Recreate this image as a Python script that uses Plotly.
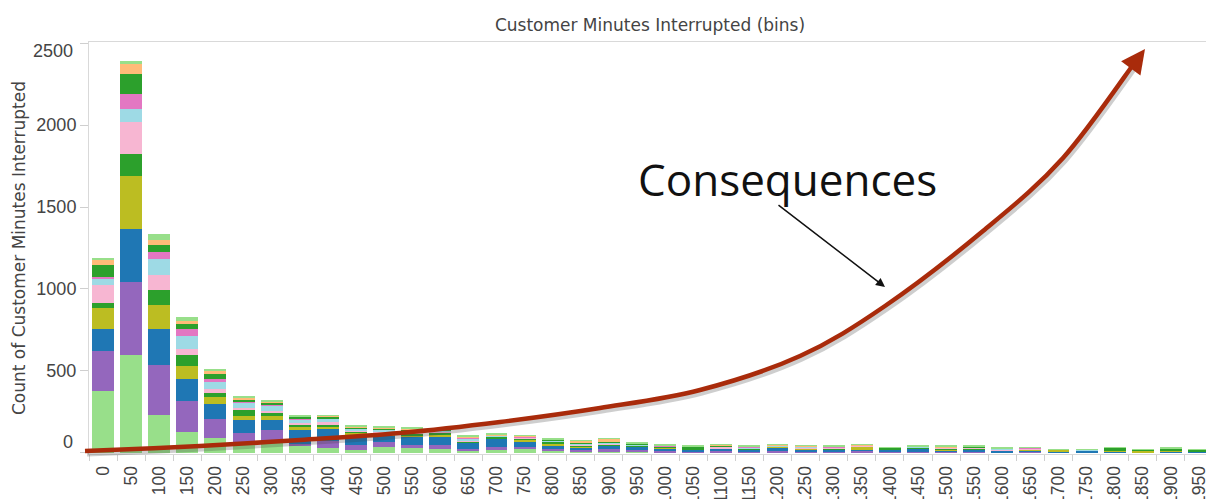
import plotly.graph_objects as go

# ---------------- data ----------------
bins = [str(v) for v in range(0, 2000, 50)]

s_lightgreen = [378, 596, 229, 127, 87, 56, 56, 40, 30, 15, 35, 25, 20, 12, 15, 25, 10, 8, 8, 5,
                3, 2, 2, 2, 2, 2, 1, 1, 1, 1, 1, 1, 1, 1, 2, 1, 1, 1, 1, 1]
s_purple = [244, 444, 306, 189, 118, 61, 81, 10, 40, 30, 30, 20, 25, 8, 20, 10, 10, 8, 12, 8,
            8, 5, 5, 5, 5, 5, 8, 10, 2, 3, 3, 6, 2, 8, 1, 1, 1, 1, 1, 1]
s_blue = [133, 326, 220, 133, 92, 81, 61, 85, 75, 65, 40, 50, 55, 40, 50, 35, 25, 15, 20, 22,
          15, 10, 15, 12, 25, 10, 10, 5, 15, 20, 8, 12, 10, 6, 1, 10, 4, 1, 2, 2]
s_olive = [126, 326, 147, 81, 41, 26, 26, 20, 10, 10, 10, 8, 8, 3, 3, 8, 5, 8, 4, 3,
           5, 2, 3, 1, 2, 5, 2, 18, 1, 2, 6, 2, 1, 1, 12, 1, 2, 12, 10, 3]
s_green = [30, 133, 92, 65, 28, 35, 15, 15, 15, 10, 10, 15, 15, 5, 8, 8, 15, 3, 3, 5,
           3, 10, 2, 2, 3, 5, 2, 4, 5, 2, 6, 3, 1, 1, 1, 1, 18, 1, 12, 10]
s_pink = [112, 194, 92, 37, 21, 14, 16, 12, 15, 6, 5, 5, 4, 8, 3, 3, 3, 6, 8, 2,
          2, 1, 8, 1, 2, 5, 5, 2, 1, 2, 4, 4, 1, 5, 0, 0, 0, 0, 0, 0]
s_lightblue = [37, 81, 98, 81, 46, 35, 35, 20, 20, 8, 10, 8, 5, 8, 3, 5, 3, 8, 4, 5,
               3, 2, 2, 10, 3, 2, 3, 2, 2, 5, 2, 3, 8, 2, 0, 4, 1, 0, 0, 0]
s_magenta = [14, 92, 41, 41, 16, 6, 6, 4, 5, 3, 3, 2, 2, 5, 2, 2, 2, 2, 4, 1,
             1, 1, 2, 1, 1, 1, 3, 1, 0, 1, 2, 2, 1, 4, 0, 0, 0, 0, 0, 0]
s_green2 = [72, 122, 45, 31, 31, 9, 10, 12, 10, 8, 5, 5, 4, 3, 3, 4, 4, 2, 2, 2,
            2, 3, 1, 1, 1, 1, 1, 1, 1, 1, 1, 1, 1, 1, 0, 0, 2, 1, 1, 1]
s_lightorange = [36, 61, 31, 20, 24, 12, 5, 4, 4, 4, 5, 6, 2, 5, 3, 5, 3, 14, 18, 3,
                 2, 1, 8, 1, 2, 6, 2, 4, 0, 1, 6, 3, 1, 1, 1, 0, 0, 1, 0, 0]
s_toplight = [5, 14, 37, 21, 8, 12, 8, 4, 4, 5, 5, 6, 2, 4, 10, 2, 7, 2, 4, 10,
              8, 3, 4, 4, 6, 4, 3, 4, 2, 4, 3, 5, 5, 2, 3, 2, 3, 3, 5, 2]

series_names = ["Category 1", "Category 2", "Category 3", "Category 4", "Category 5", "Category 6",
                "Category 7", "Category 8", "Category 9", "Category 10", "Category 11"]
series_values = [s_lightgreen, s_purple, s_blue, s_olive, s_green, s_pink,
                 s_lightblue, s_magenta, s_green2, s_lightorange, s_toplight]
series_colors = ["#98df8a", "#9467bd", "#1f77b4", "#bcbd22", "#2ca02c", "#f7b6d2",
                 "#9edae5", "#e377c2", "#2ca02c", "#ffbb78", "#98df8a"]

y_ticks = [0, 500, 1000, 1500, 2000, 2500]

# ---------------- figure ----------------
W, H = 1206, 499
L, R, T, B = 89, 0, 42, 45
PW, PH = W - L - R, H - T - B

fig = go.Figure()
for name, vals, col in zip(series_names, series_values, series_colors):
    fig.add_trace(go.Bar(x=bins, y=vals, name=name, marker=dict(color=col, line=dict(width=0))))

font_family = "Liberation Sans, Arial, sans-serif"
title_family = "DejaVu Sans, Verdana, sans-serif"
fig.update_layout(
    width=W, height=H,
    margin=dict(l=L, r=R, t=T, b=B, pad=0, autoexpand=False),
    barmode="stack", bargap=0.22,
    showlegend=False,
    plot_bgcolor="white", paper_bgcolor="white",
    font=dict(family=font_family, color="#444"),
    title=dict(text="Customer Minutes Interrupted (bins)", x=650 / W, xanchor="center",
               y=1 - 25 / H, yanchor="middle", font=dict(family=title_family, size=17, color="#444")),
)
fig.update_xaxes(
    type="category", range=[-0.5, 39.25], automargin=False,
    showline=True, linecolor="#d9d9d9", linewidth=1, mirror=True,
    ticks="outside", tickson="boundaries", ticklen=6, tickcolor="#cfcfcf",
    tickangle=-90, tickfont=dict(size=17.5, color="#444"), ticklabelstandoff=4, showgrid=False,
)
fig.update_yaxes(
    range=[-9, 2508], automargin=False,
    tickvals=y_ticks, ticktext=["", "500", "1000", "1500", "2000", ""],
    showline=True, linecolor="#d9d9d9", linewidth=1, mirror=True,
    ticks="outside", ticklen=8, tickcolor="#cfcfcf",
    tickfont=dict(size=18, color="#444"), showgrid=False, zeroline=False,
    title=dict(text="Count of Customer Minutes Interrupted",
               font=dict(family=title_family, size=17, color="#444"), standoff=6),
)

# edge tick labels, shifted inside like the original
fig.add_annotation(text="0", xref="paper", yref="paper", x=-14 / PW, y=(454 - 442) / PH,
                   xanchor="right", yanchor="middle", showarrow=False, font=dict(size=18, color="#444"))
fig.add_annotation(text="2500", xref="paper", yref="paper", x=-14 / PW, y=(454 - 51) / PH,
                   xanchor="right", yanchor="middle", showarrow=False, font=dict(size=18, color="#444"))


# ---------------- overlay: curved arrow ----------------
def px(xp, yp):
    return (xp - L) / PW, (H - B - yp) / PH


curve_px = [(85, 451), (200, 446), (300, 440), (400, 433), (500, 422), (600, 408), (700, 390),
            (800, 356), (885, 306), (983, 231), (1063, 158), (1138, 58)]


def catmull_path(pts, dx=0, dy=0):
    p = [px(a + dx, b + dy) for a, b in pts]
    s = f"M {p[0][0]:.5f},{p[0][1]:.5f}"
    for i in range(len(p) - 1):
        p0 = p[i - 1] if i > 0 else p[i]
        p1, p2 = p[i], p[i + 1]
        p3 = p[i + 2] if i + 2 < len(p) else p2
        c1 = (p1[0] + (p2[0] - p0[0]) / 6, p1[1] + (p2[1] - p0[1]) / 6)
        c2 = (p2[0] - (p3[0] - p1[0]) / 6, p2[1] - (p3[1] - p1[1]) / 6)
        s += f" C {c1[0]:.5f},{c1[1]:.5f} {c2[0]:.5f},{c2[1]:.5f} {p2[0]:.5f},{p2[1]:.5f}"
    return s


fig.add_shape(type="path", xref="paper", yref="paper", path=catmull_path(curve_px, 2, 3),
              line=dict(color="rgba(60,60,60,0.25)", width=5))
fig.add_shape(type="path", xref="paper", yref="paper", path=catmull_path(curve_px),
              line=dict(color="#a92b0b", width=4.5))
tip = px(1145, 49)
fig.add_annotation(x=tip[0], y=tip[1], xref="paper", yref="paper", text="", showarrow=True,
                   ax=-14, ay=19, arrowhead=2, arrowsize=1.2, arrowwidth=4, arrowcolor="#a92b0b",
                   standoff=0)

# ---------------- overlay: label and black arrow ----------------
cpos = px(787, 179)
fig.add_annotation(text="Consequences", x=cpos[0], y=cpos[1], xref="paper", yref="paper",
                   showarrow=False, xanchor="center", yanchor="middle",
                   font=dict(family="Open Sans, sans-serif", size=44, color="#111"))
btip = px(885, 287)
fig.add_annotation(x=btip[0], y=btip[1], xref="paper", yref="paper", text="", showarrow=True,
                   ax=777 - 885, ay=204 - 287, arrowhead=2, arrowsize=1.2, arrowwidth=1.5,
                   arrowcolor="#111", standoff=0)

fig.write_html("out.html", config={"displayModeBar": False},
               post_script="document.body.style.margin='0';document.body.style.padding='0';")
